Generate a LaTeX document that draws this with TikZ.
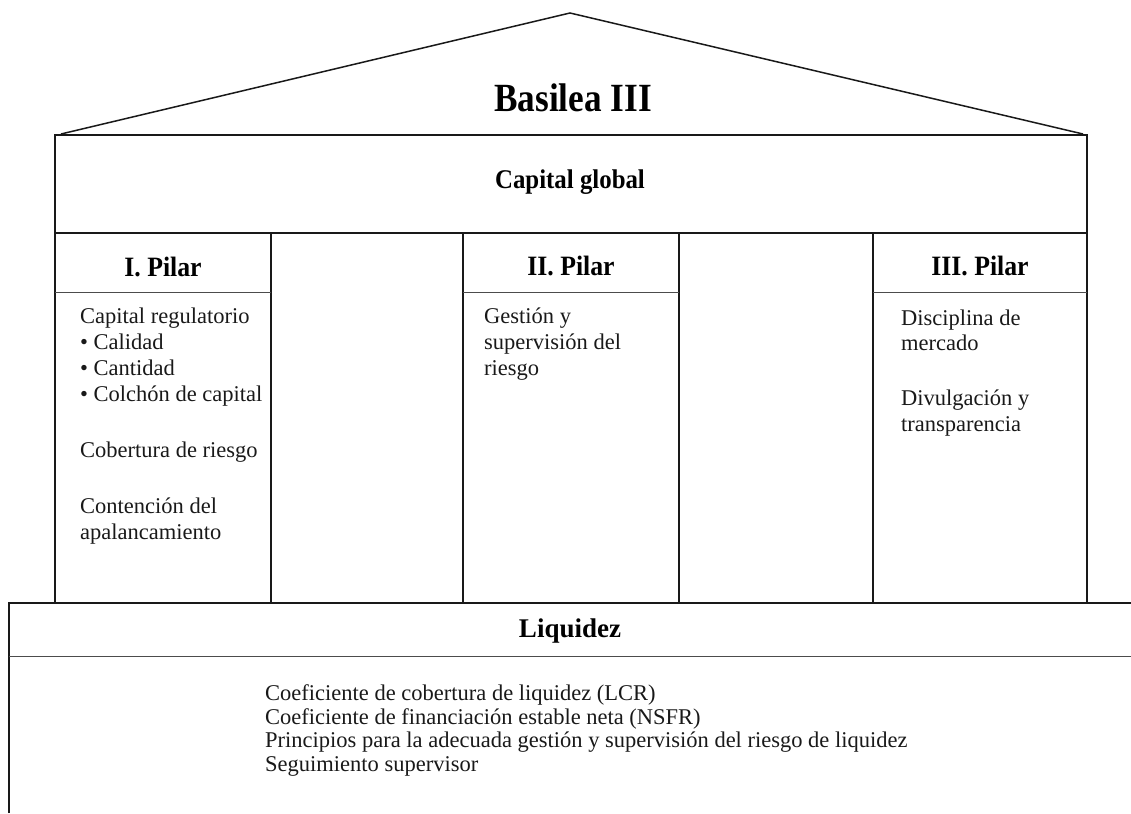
\documentclass[tikz,border=0pt]{standalone}
\usepackage{fontspec}
\setmainfont{Liberation Serif}
\begin{document}
\begin{tikzpicture}[x=1pt,y=-1pt,
  frame/.style={line width=1.8pt, draw=black!90},
  thinline/.style={line width=1pt, draw=black!70},
  roofline/.style={line width=1.5pt, draw=black!90},
  body/.style={anchor=base west, inner sep=0pt, font=\fontsize{22.5}{24}\selectfont, text=black!90},
  head/.style={anchor=base, inner sep=0pt, font=\fontsize{28}{30}\selectfont\bfseries},
]
\useasboundingbox (0,0) rectangle (1131,813);
% roof
\coordinate (rl) at (61,134);
\coordinate (ra) at (570,13);
\coordinate (rr) at (1083,134);
\draw[roofline, line join=miter] (rl) -- (ra) -- (rr);
% capital global box
\coordinate (cgtl) at (55,135);
\coordinate (cgbr) at (1087,233);
\draw[frame] (cgtl) rectangle (cgbr);
% pillar columns
\foreach \x [count=\i] in {55,271,463,679,873,1087}{
  \coordinate (ct\i) at (\x,233);
  \coordinate (cb\i) at (\x,603);
  \draw[frame] (ct\i) -- (cb\i);
}
% pillar header lines
\coordinate (h1a) at (55,292);  \coordinate (h1b) at (271,292);
\coordinate (h2a) at (463,292); \coordinate (h2b) at (679,292);
\coordinate (h3a) at (873,292); \coordinate (h3b) at (1087,292);
\draw[thinline] (h1a) -- (h1b);
\draw[thinline] (h2a) -- (h2b);
\draw[thinline] (h3a) -- (h3b);
% liquidez box
\coordinate (lqbl) at (9,813);
\coordinate (lqtl) at (9,603);
\coordinate (lqtr) at (1131,603);
\coordinate (lqsl) at (9,656);
\coordinate (lqsr) at (1131,656);
\draw[frame] (lqbl) -- (lqtl) -- (lqtr);
\draw[thinline] (lqsl) -- (lqsr);

% headings
\node[head, font=\fontsize{40}{42}\selectfont\bfseries] (basilea) at (573,112) {\scalebox{0.88}[1]{Basilea III}};
\node[head, font=\fontsize{27}{30}\selectfont\bfseries] (capglobal) at (570,189) {\scalebox{0.92}[1]{Capital global}};
\node[head] (p1) at (163,276) {\scalebox{0.92}[1]{I. Pilar}};
\node[head] (p2) at (571,275) {\scalebox{0.92}[1]{II. Pilar}};
\node[head] (p3) at (980,275) {\scalebox{0.92}[1]{III. Pilar}};
\node[head, font=\fontsize{27}{30}\selectfont\bfseries] (liq) at (570,637) {Liquidez};

% column 1
\node[body] (a1) at (80,323) {Capital regulatorio};
\node[body] (a2) at (80,349) {\textbullet\ Calidad};
\node[body] (a3) at (80,375) {\textbullet\ Cantidad};
\node[body] (a4) at (80,401) {\textbullet\ Colchón de capital};
\node[body] (a5) at (80,457) {Cobertura de riesgo};
\node[body] (a6) at (80,513) {Contención del};
\node[body] (a7) at (80,539) {apalancamiento};
% column 3
\node[body] (b1) at (484,323) {Gestión y};
\node[body] (b2) at (484,349) {supervisión del};
\node[body] (b3) at (484,375) {riesgo};
% column 5
\node[body] (c1) at (901,325) {Disciplina de};
\node[body] (c2) at (901,350) {mercado};
\node[body] (c3) at (901,405) {Divulgación y};
\node[body] (c4) at (901,431) {transparencia};
% liquidez lines
\node[body] (d1) at (265,700) {Coeficiente de cobertura de liquidez (LCR)};
\node[body] (d2) at (265,724) {Coeficiente de financiación estable neta (NSFR)};
\node[body] (d3) at (265,747) {Principios para la adecuada gestión y supervisión del riesgo de liquidez};
\node[body] (d4) at (265,771) {Seguimiento supervisor};
\end{tikzpicture}
\end{document}
